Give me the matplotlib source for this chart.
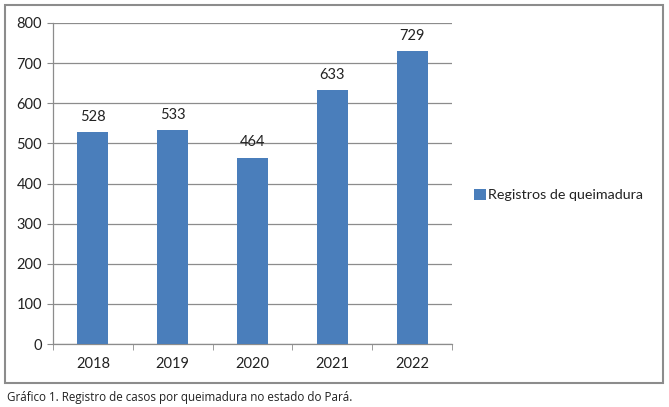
import matplotlib.pyplot as plt
from matplotlib.patches import Rectangle

# data
years = ['2018', '2019', '2020', '2021', '2022']
cases = [528, 533, 464, 633, 729]
y_ticks = [0, 100, 200, 300, 400, 500, 600, 700, 800]
series_name = 'Registros de queimadura'
caption = 'Gráfico 1. Registro de casos por queimadura no estado do Pará.'

plt.rcParams['font.family'] = ['Lato', 'DejaVu Sans']
bar_color = '#4a7ebb'
grid_color = '#8c8c8c'

fig = plt.figure(figsize=(6.69, 4.07), dpi=100)
ax = fig.add_axes([53 / 669, 1 - 344 / 407, 399 / 669, 321 / 407])

pos = list(range(len(years)))
bars = ax.bar(pos, cases, width=0.39, color=bar_color, label=series_name, zorder=3)

# value labels above each bar
for p, v in zip(pos, cases):
    ax.annotate(str(v), (p, v), xytext=(0, 6), textcoords='offset points',
                ha='center', va='bottom', fontsize=10.5, color='#222222')

ax.set_ylim(0, 800)
ax.set_xlim(-0.5, len(years) - 0.5)
ax.set_yticks(y_ticks)
ax.set_yticklabels([str(t) for t in y_ticks])
ax.set_xticks(pos)
ax.set_xticklabels(years)
ax.set_xticks([p - 0.5 for p in pos] + [len(years) - 0.5], minor=True)
ax.tick_params(axis='x', which='major', length=0, pad=9, labelsize=10.5, labelcolor='#222222')
ax.tick_params(axis='x', which='minor', length=4, color=grid_color, direction='out')
ax.tick_params(axis='y', length=4, color=grid_color, pad=4, labelsize=10.5, labelcolor='#222222')
ax.yaxis.grid(True, color=grid_color, linewidth=0.9)
ax.set_axisbelow(True)

for side in ['top', 'right']:
    ax.spines[side].set_visible(False)
for side in ['left', 'bottom']:
    ax.spines[side].set_color(grid_color)
    ax.spines[side].set_linewidth(0.9)

leg = fig.legend(handles=[bars], labels=[series_name], loc='center left',
                 bbox_to_anchor=(467 / 669, 1 - 195 / 407), frameon=False,
                 fontsize=10.3, handlelength=0.8, handleheight=0.8,
                 handletextpad=0.2, borderpad=0)
for t in leg.get_texts():
    t.set_color('#222222')

# chart frame
fig.patches.append(Rectangle((5 / 669, 1 - 383 / 407), 658 / 669, 378 / 407,
                             transform=fig.transFigure, fill=False,
                             edgecolor='#8c8c8c', linewidth=1.5))

fig.text(7 / 669, 1 - 398 / 407, caption, fontsize=8.4, va='center', ha='left',
         color='#222222', family=['Open Sans', 'DejaVu Sans'])

plt.savefig('out.png', dpi=100)
